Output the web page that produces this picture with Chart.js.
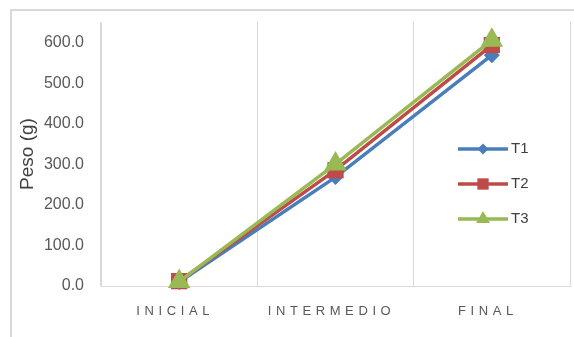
<!DOCTYPE html>
<html>
<head>
<meta charset="utf-8">
<script src="https://cdn.jsdelivr.net/npm/chart.js@4/dist/chart.umd.min.js"></script>
<style>
  html, body { margin: 0; padding: 0; background: #ffffff; }
  body { width: 574px; height: 337px; position: relative; overflow: hidden; }
  #frame { position: absolute; left: 10px; top: 9px; width: 620px; height: 400px;
           border: 2px solid #d9d9d9; box-sizing: border-box; }
  #wrap { position: absolute; left: 0; top: 0; width: 574px; height: 337px; }
</style>
</head>
<body>
<div id="frame"></div>
<div id="wrap"><canvas id="c" width="574" height="337"></canvas></div>
<script>
// Stages of the trial
const categories = ['INICIAL', 'INTERMEDIO', 'FINAL'];
// Weight (g) per treatment at each stage
const t1 = [10, 269, 570];
const t2 = [12, 286, 595];
const t3 = [11, 301, 607];
const seriesNames = ['T1', 'T2', 'T3'];
// Y axis tick values
const yTicks = [0, 100, 200, 300, 400, 500, 600];

const colors = ['#4a7ebb', '#be4b48', '#98b954'];
const styles = ['rectRot', 'rect', 'triangle'];
const radii = [8, 11.5, 13];
const legendRadii = [5.5, 8, 8];
const textColor = '#595959';
const gridColor = '#d9d9d9';
const FONT = "'Liberation Sans', Arial, sans-serif";

const seriesValues = [t1, t2, t3];
const datasets = seriesValues.map((vals, i) => ({
  label: seriesNames[i],
  data: vals,
  borderColor: colors[i],
  backgroundColor: colors[i],
  borderWidth: 3.5,
  pointStyle: styles[i],
  pointRadius: radii[i],
  pointHoverRadius: radii[i],
  pointBorderWidth: 0,
  tension: 0,
  clip: false,
  order: 2 - i
}));

// Legend drawn inside the plot, on the right
const insideLegend = {
  id: 'insideLegend',
  afterDraw(chart) {
    const ctx = chart.ctx;
    const area = chart.chartArea;
    const x0 = area.right - 112, x1 = area.right - 62;
    const rowY = [149, 184, 219];
    ctx.save();
    chart.data.datasets.forEach((ds, i) => {
      const y = rowY[i];
      ctx.strokeStyle = ds.borderColor;
      ctx.lineWidth = 3.5;
      ctx.beginPath();
      ctx.moveTo(x0, y);
      ctx.lineTo(x1, y);
      ctx.stroke();
      ctx.fillStyle = ds.backgroundColor;
      Chart.helpers.drawPoint(ctx, {
        pointStyle: ds.pointStyle, radius: legendRadii[i], rotation: 0, borderWidth: 0
      }, (x0 + x1) / 2, y);
      ctx.fillStyle = '#404040';
      ctx.font = '15px ' + FONT;
      ctx.textBaseline = 'middle';
      ctx.textAlign = 'left';
      ctx.fillText(ds.label, x1 + 3, y);
    });
    ctx.restore();
  }
};

// Spaced-out category labels on the x axis
const spacedXLabels = {
  id: 'spacedXLabels',
  afterLayout(chart) {
    const s = chart.scales.x;
    if (s && !s._spaced) {
      const orig = s.drawLabels.bind(s);
      s.drawLabels = function (area) {
        const ctx = chart.ctx;
        ctx.save();
        ctx.letterSpacing = '4.6px';
        ctx.translate(-4, 0);
        orig(area);
        ctx.restore();
      };
      s._spaced = true;
    }
  }
};

function noScalePadding(scale) {
  scale.paddingTop = 0;
  scale.paddingBottom = 0;
  scale.paddingLeft = 0;
  scale.paddingRight = 0;
}

new Chart(document.getElementById('c'), {
  type: 'line',
  data: { labels: categories, datasets },
  options: {
    responsive: false,
    animation: false,
    devicePixelRatio: 1,
    layout: { autoPadding: false, padding: { top: 22, right: 4, left: 0, bottom: 0 } },
    plugins: {
      legend: { display: false },
      tooltip: { enabled: false }
    },
    scales: {
      x: {
        offset: true,
        grid: { display: true, offset: true, color: gridColor, lineWidth: 1, drawTicks: false },
        border: { display: true, color: gridColor, width: 1 },
        ticks: { color: textColor, font: { family: FONT, size: 13 }, padding: 18, maxRotation: 0 },
        afterFit(scale) { scale.height = 51; noScalePadding(scale); }
      },
      y: {
        min: 0,
        max: 652,
        grid: { display: false, drawTicks: false },
        border: { display: true, color: gridColor, width: 1 },
        afterBuildTicks(scale) { scale.ticks = yTicks.map(v => ({ value: v })); },
        ticks: {
          color: textColor,
          font: { family: FONT, size: 16 },
          padding: 17,
          callback: v => Number(v).toFixed(1)
        },
        title: {
          display: true,
          text: 'Peso (g)',
          color: '#404040',
          font: { family: FONT, size: 19 },
          padding: { top: 16, bottom: 0 }
        },
        afterFit(scale) { scale.width = 101; noScalePadding(scale); }
      }
    }
  },
  plugins: [spacedXLabels, insideLegend]
});
</script>
</body>
</html>
